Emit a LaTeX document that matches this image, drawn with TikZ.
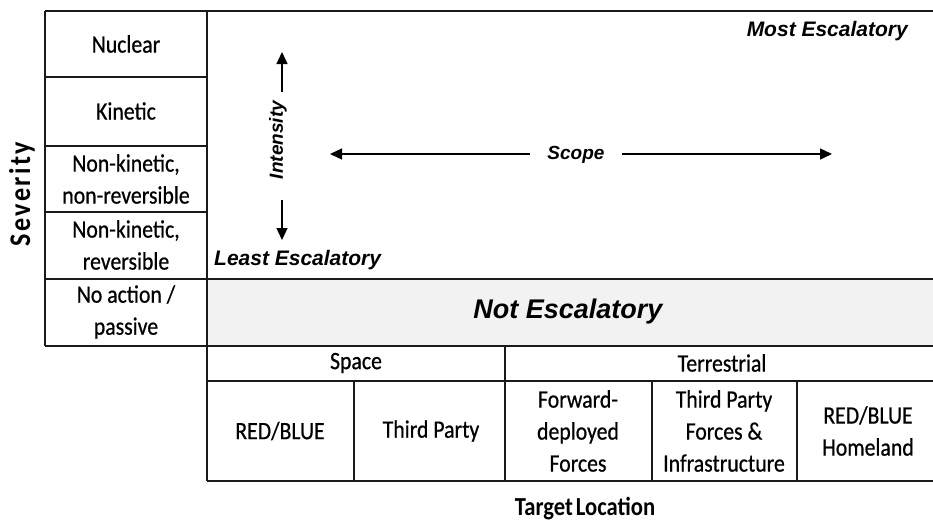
\documentclass[tikz,border=0pt]{standalone}
\usepackage{fontspec}
\setmainfont{Carlito}[FakeStretch=0.87, UprightFeatures={FakeBold=0.6}]
\newfontfamily\arialfont{Liberation Sans}
\usetikzlibrary{arrows.meta}
\definecolor{bandgray}{HTML}{F2F2F2}
\definecolor{gridcol}{HTML}{1A1A1A}
\begin{document}
\begin{tikzpicture}[x=1pt,y=-1pt,
  grid/.style={line width=1.7pt, draw=gridcol},
  cell/.style={align=center, font=\fontsize{25}{32}\selectfont, inner sep=0pt},
  esc/.style={font=\arialfont\bfseries\itshape\fontsize{21}{25}\selectfont, inner sep=0pt},
  axlabel/.style={font=\arialfont\bfseries\itshape\fontsize{19}{23}\selectfont, inner sep=0pt},
  axarrow/.style={line width=1.3pt, -{Triangle[length=12pt,width=11pt]}},
  bigtitle/.style={font=\bfseries\fontsize{26}{30}\selectfont, inner sep=0pt}
]
\useasboundingbox (0,0) rectangle (933,523);
% grey band
\fill[bandgray] (207,279) rectangle (933,346);
% grid
\draw[grid] (45,11) -- (933,11);
\draw[grid] (45,11) -- (45,346);
\draw[grid] (207,11) -- (207,481);
\draw[grid] (45,77) -- (207,77);
\draw[grid] (45,146) -- (207,146);
\draw[grid] (45,212) -- (207,212);
\draw[grid] (45,279) -- (933,279);
\draw[grid] (45,346) -- (933,346);
\draw[grid] (207,381) -- (933,381);
\draw[grid] (207,481) -- (933,481);
\draw[grid] (505,346) -- (505,481);
\draw[grid] (354,381) -- (354,481);
\draw[grid] (652,381) -- (652,481);
\draw[grid] (797,381) -- (797,481);
% severity labels
\node[cell] (nuc) at (126,44) {Nuclear};
\node[cell] (kin) at (126,111) {Kinetic};
\node[cell] (nknr) at (126,179) {Non-kinetic,\\non-reversible};
\node[cell] (nkr) at (126,245) {Non-kinetic,\\reversible};
\node[cell] (noact) at (126,312) {No action /\\passive};
\node[bigtitle, rotate=90, font=\bfseries\fontsize{30}{34}\selectfont\addfontfeature{LetterSpace=8}] (sev) at (22,194) {Severity};
% target location labels
\node[cell] (space) at (356,363) {Space};
\node[cell] (terr) at (722,363) {Terrestrial};
\node[cell] (rb) at (280,431) {RED/BLUE};
\node[cell] (tp) at (431,431) {Third Party};
\node[cell] (fdf) at (578,431) {Forward-\\deployed\\Forces};
\node[cell] (tpf) at (724,431) {Third Party\\Forces \&\\Infrastructure};
\node[cell] (rbh) at (868,431) {RED/BLUE\\Homeland};
\node[bigtitle, anchor=base] (tl) at (585,515) {Target\hspace{-2pt} Location};
% escalation labels
\node[esc, anchor=base east] (most) at (908,36) {Most Escalatory};
\node[esc, anchor=base west] (least) at (214,265) {Least Escalatory};
\node[esc, anchor=base, font=\arialfont\bfseries\itshape\fontsize{27}{32}\selectfont] (notesc) at (568,318) {Not Escalatory};
\node[axlabel, rotate=90] (int) at (278,140) {Intensity};
\node[axlabel] (scope) at (576,155) {Scope};
% arrows
\coordinate (iu0) at (282,92);
\coordinate (iu1) at (282,52);
\coordinate (id0) at (282,200);
\coordinate (id1) at (282,240);
\coordinate (sl0) at (530,154);
\coordinate (sl1) at (330,154);
\coordinate (sr0) at (622,154);
\coordinate (sr1) at (832,154);
\draw[axarrow] (iu0) -- (iu1);
\draw[axarrow] (id0) -- (id1);
\draw[axarrow] (sl0) -- (sl1);
\draw[axarrow] (sr0) -- (sr1);
\end{tikzpicture}
\end{document}
